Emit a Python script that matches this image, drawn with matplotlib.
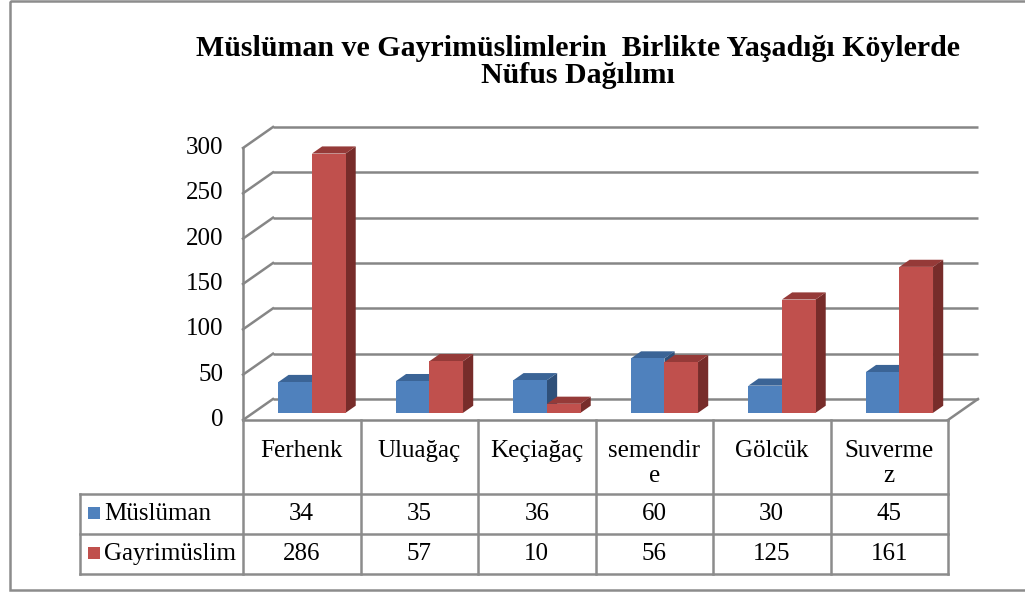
import matplotlib
matplotlib.use('Agg')
import matplotlib.pyplot as plt
from matplotlib.patches import Polygon, Rectangle

# data
villages = ['Ferhenk', 'Uluağaç', 'Keçiağaç', 'semendir\ne', 'Gölcük', 'Suverme\nz']
muslim = [34, 35, 36, 60, 30, 45]
nonmuslim = [286, 57, 10, 56, 125, 161]
series_names = ['Müslüman', 'Gayrimüslim']
yticks = [0, 50, 100, 150, 200, 250, 300]
title = 'Müslüman ve Gayrimüslimlerin  Birlikte Yaşadığı Köylerde\nNüfus Dağılımı'

plt.rcParams['font.family'] = ['Liberation Serif', 'DejaVu Serif']

W, H = 1025, 592
fig = plt.figure(figsize=(W / 100, H / 100), dpi=100)

# plot axes: x in category units, y in value units (front plane)
x0_px, cat_px = 243, 117.5
y0_px, val_px = 420, 272 / 300
ax = fig.add_axes([0, 0, 1, 1])
ax.set_xlim(-x0_px / cat_px, (W - x0_px) / cat_px)
ax.set_ylim((y0_px - H) / val_px, y0_px / val_px)
ax.axis('off')

# oblique depth (full depth of the floor)
DX = 30 / cat_px
DY = 21 / val_px

def proj(x, v, d):
    return (x + d * DX, v + d * DY)

grid_c = '#868686'
n = len(villages)
vmax = yticks[-1]

# back wall gridlines and left wall diagonals
for v in yticks:
    ax.plot([proj(0, v, 1)[0], proj(n, v, 1)[0]], [proj(0, v, 1)[1]] * 2,
            color=grid_c, lw=1.8, zorder=1, solid_capstyle='butt')
    ax.plot([0, DX], [v, v + DY], color=grid_c, lw=1.8, zorder=1)
ax.plot([0, 0], [0, vmax], color=grid_c, lw=1.8, zorder=1)
# floor edges
ax.plot([0, n], [0, 0], color=grid_c, lw=1.8, zorder=1)
ax.plot([n, n + DX], [0, DY], color=grid_c, lw=1.8, zorder=1)

for v in yticks:
    ax.text(-20 / cat_px, v, str(v), ha='right', va='center', fontsize=18)

# bars
bw = 1 / 3.5
d0, d1 = 0.34, 0.68
faces = {
    0: ('#4f81bd', '#3b6496', '#2f5079'),
    1: ('#c0504d', '#953a38', '#772c2a'),
}
for i in range(n):
    for s, vals in enumerate([muslim, nonmuslim]):
        v = vals[i]
        xl = i + 0.5 - bw + s * bw
        xr = xl + bw
        front_c, top_c, side_c = faces[s]
        top = [proj(xl, v, d0), proj(xr, v, d0), proj(xr, v, d1), proj(xl, v, d1)]
        side = [proj(xr, 0, d0), proj(xr, 0, d1), proj(xr, v, d1), proj(xr, v, d0)]
        front = [proj(xl, 0, d0), proj(xr, 0, d0), proj(xr, v, d0), proj(xl, v, d0)]
        z = 2 + i * 0.1 + s * 0.01
        ax.add_patch(Polygon(side, closed=True, fc=side_c, ec='none', zorder=z))
        ax.add_patch(Polygon(top, closed=True, fc=top_c, ec='none', zorder=z))
        ax.add_patch(Polygon(front, closed=True, fc=front_c, ec='none', zorder=z))

# overlay in pixel coordinates for title, table, border
ov = fig.add_axes([0, 0, 1, 1], facecolor='none')
ov.set_xlim(0, W)
ov.set_ylim(H, 0)
ov.axis('off')

ov.add_patch(Rectangle((10, 1), W + 10, 589, fill=False, ec='#8c8c8c', lw=1.8))
ov.text(578, 62, title, ha='center', va='center', fontsize=21.5,
        fontweight='bold', linespacing=1.0)

tc = '#8c8c8c'
cols = [x0_px + i * cat_px for i in range(n + 1)]
r_top, r_head, r_mid, r_bot = 420, 494, 534, 574
left = 80
for x in cols:
    ov.plot([x, x], [r_top, r_bot], color=tc, lw=1.8)
ov.plot([left, left], [r_head, r_bot], color=tc, lw=1.8)
for y in [r_head, r_mid, r_bot]:
    ov.plot([left, cols[-1]], [y, y], color=tc, lw=1.8)

for i, name in enumerate(villages):
    cx = (cols[i] + cols[i + 1]) / 2
    ov.text(cx, 440, name, ha='center', va='top', fontsize=18, linespacing=1.15)

rows_y = [(r_head + r_mid) / 2, (r_mid + r_bot) / 2]
for s, vals in enumerate([muslim, nonmuslim]):
    y = rows_y[s]
    ov.add_patch(Rectangle((88, y - 7), 12, 12, fc=faces[s][0], ec='none'))
    ov.text(104, y, series_names[s], ha='left', va='center', fontsize=18)
    for i, v in enumerate(vals):
        cx = (cols[i] + cols[i + 1]) / 2
        ov.text(cx, y, str(v), ha='center', va='center', fontsize=18)

fig.savefig('out.png', dpi=100)
